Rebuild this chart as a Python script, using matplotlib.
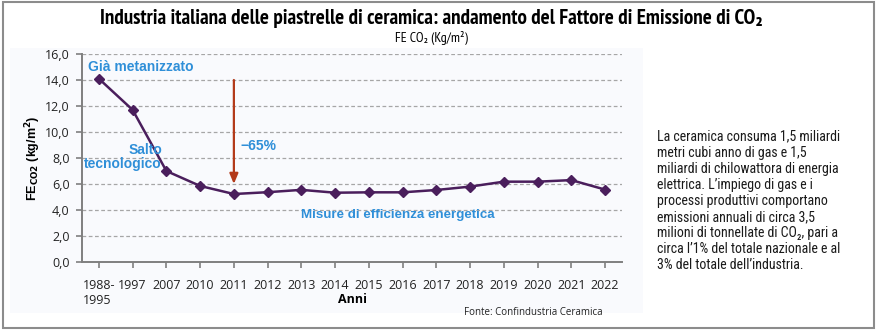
import matplotlib
matplotlib.use("Agg")
import matplotlib.pyplot as plt
from matplotlib.patches import Rectangle
from matplotlib.ticker import FuncFormatter

# --- data ---
anni = ["1988-\n1995", "1997", "2007", "2010", "2011", "2012", "2013", "2014",
        "2015", "2016", "2017", "2018", "2019", "2020", "2021", "2022"]
fe_co2 = [14.1, 11.7, 7.0, 5.85, 5.23, 5.37, 5.55, 5.33,
          5.36, 5.36, 5.54, 5.8, 6.18, 6.18, 6.3, 5.57]
arrow_from, arrow_to = 14.0, 6.0

TITLEF = ["PT Sans Narrow", "DejaVu Sans"]
NOTEF = ["Roboto Condensed", "DejaVu Sans"]
TICKF = ["Open Sans", "DejaVu Sans"]
ANNF = ["Liberation Sans", "DejaVu Sans"]
BLUE = "#2F8FD8"
LINE = "#4A1E5C"

fig = plt.figure(figsize=(8.8, 3.33), dpi=100)

# chart background and outer frame
fig.patches.append(Rectangle((0.0114, 0.06), 0.7193, 0.796, transform=fig.transFigure,
                             facecolor="#F9FAFD", edgecolor="none", zorder=-10))
fig.patches.append(Rectangle((0.0034, 0.015), 0.9898, 0.979, transform=fig.transFigure,
                             facecolor="none", edgecolor="#8C8C8C", lw=1.5, zorder=10))

ax = fig.add_axes([0.0932, 0.2132, 0.6136, 0.6246])
ax.set_facecolor("none")

x = list(range(len(anni)))
ax.plot(x, fe_co2, color=LINE, lw=1.8, marker="D", ms=5.5, zorder=3)

ax.set_xlim(-0.5, len(anni) - 0.5)
ax.set_ylim(0, 16)
ax.set_yticks(range(0, 17, 2))
ax.yaxis.set_major_formatter(FuncFormatter(lambda v, p: f"{v:.1f}".replace(".", ",")))
ax.set_xticks(x)
ax.set_xticklabels(anni, multialignment="left")
ax.grid(axis="y", color="#A6A6A6", ls=(0, (3, 2)), lw=0.9)
ax.set_axisbelow(True)

for s in ("top", "right"):
    ax.spines[s].set_visible(False)
for s in ("left", "bottom"):
    ax.spines[s].set_color("#7F7F7F")
    ax.spines[s].set_linewidth(1.4)
ax.tick_params(axis="x", length=4, width=1.2, color="#7F7F7F", pad=8)
ax.tick_params(axis="y", length=4, width=1.2, color="#7F7F7F", pad=5)
for lab in ax.get_xticklabels() + ax.get_yticklabels():
    lab.set_family(TICKF)
    lab.set_fontsize(9)
    lab.set_color("#222222")

ax.set_xlabel("Anni", family=TICKF, fontweight="bold", fontsize=9, labelpad=-10)
ax.set_ylabel(r"FE$_{\mathbf{CO2}}$ (kg/m$^{\mathbf{2}}$)", fontweight="bold",
              family=ANNF, fontsize=9, labelpad=1.5)

# annotations
ax.annotate("", xy=(4, arrow_to), xytext=(4, arrow_from),
            arrowprops=dict(arrowstyle="-|>,head_width=0.25,head_length=0.6",
                            color="#B33A1A", lw=1.6, shrinkA=0, shrinkB=0), zorder=4)
ax.text(4.2, 8.95, "\u221265%", color=BLUE, fontweight="bold", fontsize=10,
        family=ANNF, va="center", ha="left")
ax.text(1.25, 15.0, "Già metanizzato", color=BLUE, fontweight="bold", fontsize=10,
        family=ANNF, va="center", ha="center")
ax.text(1.87, 8.1, "Salto\ntecnologico", color=BLUE, fontweight="bold", fontsize=10,
        family=ANNF, va="center", ha="right", multialignment="right", linespacing=1.0)
ax.text(8.85, 3.6, "Misure di efficienza energetica", color=BLUE, fontweight="bold",
        family=ANNF, fontsize=9.6, va="center", ha="center")

# titles
fig.text(0.49, 0.945, "Industria italiana delle piastrelle di ceramica: andamento del Fattore di Emissione di CO\u2082",
         family=TITLEF, fontweight="bold", fontsize=15.2, ha="center", va="center")
fig.text(0.49, 0.885, "FE CO\u2082 (Kg/m\u00b2)", family=TITLEF, fontsize=10,
         ha="center", va="center")

fig.text(0.685, 0.063, "Fonte: Confindustria Ceramica", family=TICKF, fontsize=7,
         ha="right", va="center", color="#222222")

note = ("La ceramica consuma 1,5 miliardi\n"
        "metri cubi anno di gas e 1,5\n"
        "miliardi di chilowattora di energia\n"
        "elettrica. L\u2019impiego di gas e i\n"
        "processi produttivi comportano\n"
        "emissioni annuali di circa 3,5\n"
        "milioni di tonnellate di CO\u2082, pari a\n"
        "circa l\u20191% del totale nazionale e al\n"
        "3% del totale dell\u2019industria.")
fig.text(0.747, 0.396, note, family=NOTEF, fontsize=10, ha="left", va="center",
         linespacing=1.19, color="#1A1A1A")

fig.savefig("out.png", dpi=100)
